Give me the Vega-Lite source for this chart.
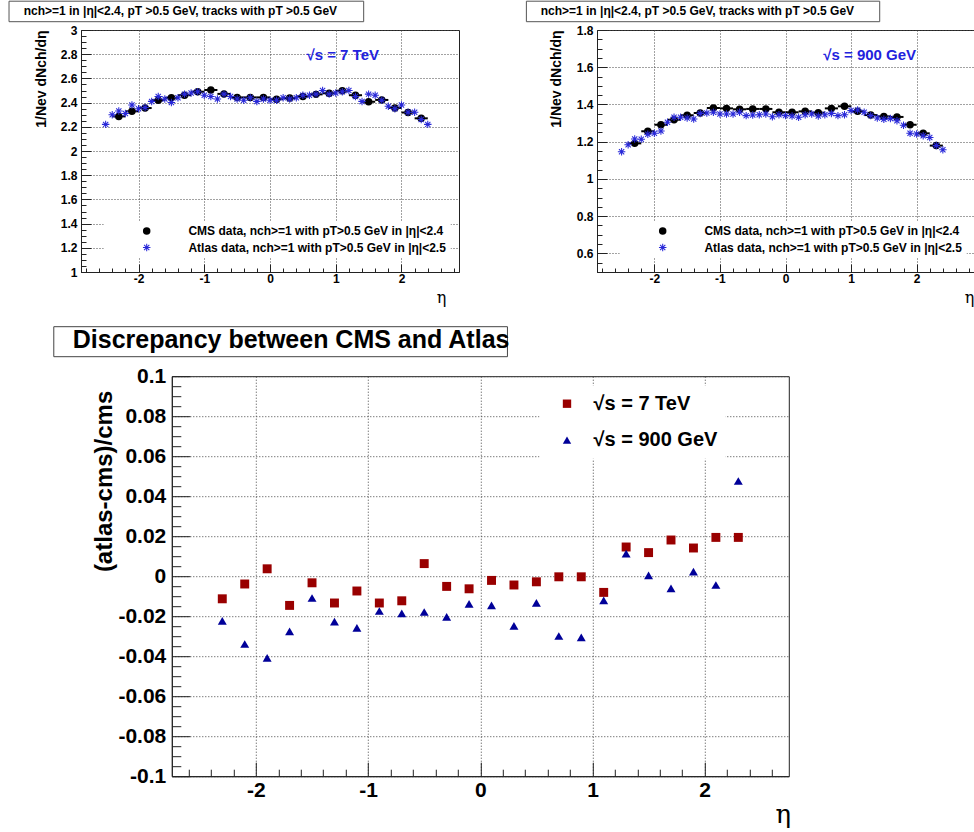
{
"$schema": "https://vega.github.io/schema/vega-lite/v6.json",
"background": "white",
"padding": {"left": 8, "top": 0, "right": 0, "bottom": 0},
"config": {
 "font": "Liberation Sans",
 "view": {"stroke": "#222", "strokeWidth": 1},
 "axis": {"tickCount": 200, "labelOverlap": false, "labelFlush": false, "domainColor": "#222", "domainWidth": 1, "tickColor": "#222", "tickWidth": 1, "gridColor": "#444", "gridDash": [1, 2], "gridWidth": 1, "labelFont": "Liberation Sans", "labelFontWeight": "bold", "labelColor": "black", "titleColor": "black", "titleFont": "Liberation Sans"},
 "legend": {"labelFont": "Liberation Sans", "labelFontWeight": "bold", "labelColor": "black"}
},
"datasets": {
 "top7": [
  {"exp":"CMS","eta":-2.3,"lo":-2.4,"hi":-2.2,"v":2.286},
  {"exp":"CMS","eta":-2.1,"lo":-2.2,"hi":-2.0,"v":2.328},
  {"exp":"CMS","eta":-1.9,"lo":-2.0,"hi":-1.8,"v":2.355},
  {"exp":"CMS","eta":-1.7,"lo":-1.8,"hi":-1.6,"v":2.420},
  {"exp":"CMS","eta":-1.5,"lo":-1.6,"hi":-1.4,"v":2.440},
  {"exp":"CMS","eta":-1.3,"lo":-1.4,"hi":-1.2,"v":2.461},
  {"exp":"CMS","eta":-1.1,"lo":-1.2,"hi":-1.0,"v":2.490},
  {"exp":"CMS","eta":-0.9,"lo":-1.0,"hi":-0.8,"v":2.504},
  {"exp":"CMS","eta":-0.7,"lo":-0.8,"hi":-0.6,"v":2.472},
  {"exp":"CMS","eta":-0.5,"lo":-0.6,"hi":-0.4,"v":2.443},
  {"exp":"CMS","eta":-0.3,"lo":-0.4,"hi":-0.2,"v":2.443},
  {"exp":"CMS","eta":-0.1,"lo":-0.2,"hi":0.0,"v":2.443},
  {"exp":"CMS","eta":0.1,"lo":0.0,"hi":0.2,"v":2.428},
  {"exp":"CMS","eta":0.3,"lo":0.2,"hi":0.4,"v":2.438},
  {"exp":"CMS","eta":0.5,"lo":0.4,"hi":0.6,"v":2.451},
  {"exp":"CMS","eta":0.7,"lo":0.6,"hi":0.8,"v":2.468},
  {"exp":"CMS","eta":0.9,"lo":0.8,"hi":1.0,"v":2.477},
  {"exp":"CMS","eta":1.1,"lo":1.0,"hi":1.2,"v":2.498},
  {"exp":"CMS","eta":1.3,"lo":1.2,"hi":1.4,"v":2.461},
  {"exp":"CMS","eta":1.5,"lo":1.4,"hi":1.6,"v":2.407},
  {"exp":"CMS","eta":1.7,"lo":1.6,"hi":1.8,"v":2.422},
  {"exp":"CMS","eta":1.9,"lo":1.8,"hi":2.0,"v":2.356},
  {"exp":"CMS","eta":2.1,"lo":2.0,"hi":2.2,"v":2.318},
  {"exp":"CMS","eta":2.3,"lo":2.2,"hi":2.4,"v":2.270},
  {"exp":"Atlas","eta":-2.5,"v":2.22},
  {"exp":"Atlas","eta":-2.4,"v":2.30},
  {"exp":"Atlas","eta":-2.3,"v":2.33},
  {"exp":"Atlas","eta":-2.2,"v":2.31},
  {"exp":"Atlas","eta":-2.1,"v":2.38},
  {"exp":"Atlas","eta":-2.0,"v":2.35},
  {"exp":"Atlas","eta":-1.9,"v":2.36},
  {"exp":"Atlas","eta":-1.8,"v":2.41},
  {"exp":"Atlas","eta":-1.7,"v":2.45},
  {"exp":"Atlas","eta":-1.6,"v":2.43},
  {"exp":"Atlas","eta":-1.5,"v":2.40},
  {"exp":"Atlas","eta":-1.4,"v":2.44},
  {"exp":"Atlas","eta":-1.3,"v":2.47},
  {"exp":"Atlas","eta":-1.2,"v":2.48},
  {"exp":"Atlas","eta":-1.1,"v":2.49},
  {"exp":"Atlas","eta":-1.0,"v":2.46},
  {"exp":"Atlas","eta":-0.9,"v":2.45},
  {"exp":"Atlas","eta":-0.8,"v":2.43},
  {"exp":"Atlas","eta":-0.7,"v":2.47},
  {"exp":"Atlas","eta":-0.6,"v":2.45},
  {"exp":"Atlas","eta":-0.5,"v":2.43},
  {"exp":"Atlas","eta":-0.4,"v":2.42},
  {"exp":"Atlas","eta":-0.3,"v":2.44},
  {"exp":"Atlas","eta":-0.2,"v":2.41},
  {"exp":"Atlas","eta":-0.1,"v":2.43},
  {"exp":"Atlas","eta":0.0,"v":2.42},
  {"exp":"Atlas","eta":0.1,"v":2.42},
  {"exp":"Atlas","eta":0.2,"v":2.44},
  {"exp":"Atlas","eta":0.3,"v":2.43},
  {"exp":"Atlas","eta":0.4,"v":2.44},
  {"exp":"Atlas","eta":0.5,"v":2.46},
  {"exp":"Atlas","eta":0.6,"v":2.46},
  {"exp":"Atlas","eta":0.7,"v":2.47},
  {"exp":"Atlas","eta":0.8,"v":2.50},
  {"exp":"Atlas","eta":0.9,"v":2.47},
  {"exp":"Atlas","eta":1.0,"v":2.48},
  {"exp":"Atlas","eta":1.1,"v":2.49},
  {"exp":"Atlas","eta":1.2,"v":2.50},
  {"exp":"Atlas","eta":1.3,"v":2.45},
  {"exp":"Atlas","eta":1.4,"v":2.41},
  {"exp":"Atlas","eta":1.5,"v":2.47},
  {"exp":"Atlas","eta":1.6,"v":2.46},
  {"exp":"Atlas","eta":1.7,"v":2.42},
  {"exp":"Atlas","eta":1.8,"v":2.37},
  {"exp":"Atlas","eta":1.9,"v":2.35},
  {"exp":"Atlas","eta":2.0,"v":2.38},
  {"exp":"Atlas","eta":2.1,"v":2.32},
  {"exp":"Atlas","eta":2.2,"v":2.32},
  {"exp":"Atlas","eta":2.3,"v":2.26},
  {"exp":"Atlas","eta":2.4,"v":2.22}
 ],
 "top900": [
  {"exp":"CMS","eta":-2.3,"lo":-2.4,"hi":-2.2,"v":1.191},
  {"exp":"CMS","eta":-2.1,"lo":-2.2,"hi":-2.0,"v":1.256},
  {"exp":"CMS","eta":-1.9,"lo":-2.0,"hi":-1.8,"v":1.291},
  {"exp":"CMS","eta":-1.7,"lo":-1.8,"hi":-1.6,"v":1.318},
  {"exp":"CMS","eta":-1.5,"lo":-1.6,"hi":-1.4,"v":1.342},
  {"exp":"CMS","eta":-1.3,"lo":-1.4,"hi":-1.2,"v":1.354},
  {"exp":"CMS","eta":-1.1,"lo":-1.2,"hi":-1.0,"v":1.381},
  {"exp":"CMS","eta":-0.9,"lo":-1.0,"hi":-0.8,"v":1.379},
  {"exp":"CMS","eta":-0.7,"lo":-0.8,"hi":-0.6,"v":1.374},
  {"exp":"CMS","eta":-0.5,"lo":-0.6,"hi":-0.4,"v":1.376},
  {"exp":"CMS","eta":-0.3,"lo":-0.4,"hi":-0.2,"v":1.376},
  {"exp":"CMS","eta":-0.1,"lo":-0.2,"hi":0.0,"v":1.358},
  {"exp":"CMS","eta":0.1,"lo":0.0,"hi":0.2,"v":1.358},
  {"exp":"CMS","eta":0.3,"lo":0.2,"hi":0.4,"v":1.363},
  {"exp":"CMS","eta":0.5,"lo":0.4,"hi":0.6,"v":1.356},
  {"exp":"CMS","eta":0.7,"lo":0.6,"hi":0.8,"v":1.379},
  {"exp":"CMS","eta":0.9,"lo":0.8,"hi":1.0,"v":1.390},
  {"exp":"CMS","eta":1.1,"lo":1.0,"hi":1.2,"v":1.363},
  {"exp":"CMS","eta":1.3,"lo":1.2,"hi":1.4,"v":1.343},
  {"exp":"CMS","eta":1.5,"lo":1.4,"hi":1.6,"v":1.336},
  {"exp":"CMS","eta":1.7,"lo":1.6,"hi":1.8,"v":1.333},
  {"exp":"CMS","eta":1.9,"lo":1.8,"hi":2.0,"v":1.291},
  {"exp":"CMS","eta":2.1,"lo":2.0,"hi":2.2,"v":1.245},
  {"exp":"CMS","eta":2.3,"lo":2.2,"hi":2.4,"v":1.179},
  {"exp":"Atlas","eta":-2.5,"v":1.146},
  {"exp":"Atlas","eta":-2.4,"v":1.184},
  {"exp":"Atlas","eta":-2.3,"v":1.214},
  {"exp":"Atlas","eta":-2.2,"v":1.213},
  {"exp":"Atlas","eta":-2.1,"v":1.240},
  {"exp":"Atlas","eta":-2.0,"v":1.245},
  {"exp":"Atlas","eta":-1.9,"v":1.257},
  {"exp":"Atlas","eta":-1.8,"v":1.304},
  {"exp":"Atlas","eta":-1.7,"v":1.331},
  {"exp":"Atlas","eta":-1.6,"v":1.331},
  {"exp":"Atlas","eta":-1.5,"v":1.327},
  {"exp":"Atlas","eta":-1.4,"v":1.322},
  {"exp":"Atlas","eta":-1.3,"v":1.352},
  {"exp":"Atlas","eta":-1.2,"v":1.354},
  {"exp":"Atlas","eta":-1.1,"v":1.358},
  {"exp":"Atlas","eta":-1.0,"v":1.349},
  {"exp":"Atlas","eta":-0.9,"v":1.349},
  {"exp":"Atlas","eta":-0.8,"v":1.349},
  {"exp":"Atlas","eta":-0.7,"v":1.358},
  {"exp":"Atlas","eta":-0.6,"v":1.340},
  {"exp":"Atlas","eta":-0.5,"v":1.343},
  {"exp":"Atlas","eta":-0.4,"v":1.345},
  {"exp":"Atlas","eta":-0.3,"v":1.349},
  {"exp":"Atlas","eta":-0.2,"v":1.334},
  {"exp":"Atlas","eta":-0.1,"v":1.345},
  {"exp":"Atlas","eta":0.0,"v":1.340},
  {"exp":"Atlas","eta":0.1,"v":1.338},
  {"exp":"Atlas","eta":0.2,"v":1.331},
  {"exp":"Atlas","eta":0.3,"v":1.345},
  {"exp":"Atlas","eta":0.4,"v":1.349},
  {"exp":"Atlas","eta":0.5,"v":1.338},
  {"exp":"Atlas","eta":0.6,"v":1.345},
  {"exp":"Atlas","eta":0.7,"v":1.352},
  {"exp":"Atlas","eta":0.8,"v":1.340},
  {"exp":"Atlas","eta":0.9,"v":1.345},
  {"exp":"Atlas","eta":1.0,"v":1.367},
  {"exp":"Atlas","eta":1.1,"v":1.370},
  {"exp":"Atlas","eta":1.2,"v":1.358},
  {"exp":"Atlas","eta":1.3,"v":1.340},
  {"exp":"Atlas","eta":1.4,"v":1.327},
  {"exp":"Atlas","eta":1.5,"v":1.320},
  {"exp":"Atlas","eta":1.6,"v":1.324},
  {"exp":"Atlas","eta":1.7,"v":1.313},
  {"exp":"Atlas","eta":1.8,"v":1.288},
  {"exp":"Atlas","eta":1.9,"v":1.245},
  {"exp":"Atlas","eta":2.0,"v":1.241},
  {"exp":"Atlas","eta":2.1,"v":1.232},
  {"exp":"Atlas","eta":2.2,"v":1.223},
  {"exp":"Atlas","eta":2.3,"v":1.179},
  {"exp":"Atlas","eta":2.4,"v":1.157}
 ],
 "disc": [
  {"energy":"7 TeV","eta":-2.3,"d":-0.0113},
  {"energy":"7 TeV","eta":-2.1,"d":-0.0039},
  {"energy":"7 TeV","eta":-1.9,"d":0.0037},
  {"energy":"7 TeV","eta":-1.7,"d":-0.0146},
  {"energy":"7 TeV","eta":-1.5,"d":-0.0033},
  {"energy":"7 TeV","eta":-1.3,"d":-0.0134},
  {"energy":"7 TeV","eta":-1.1,"d":-0.0074},
  {"energy":"7 TeV","eta":-0.9,"d":-0.0134},
  {"energy":"7 TeV","eta":-0.7,"d":-0.0123},
  {"energy":"7 TeV","eta":-0.5,"d":0.0063},
  {"energy":"7 TeV","eta":-0.3,"d":-0.0051},
  {"energy":"7 TeV","eta":-0.1,"d":-0.0063},
  {"energy":"7 TeV","eta":0.1,"d":-0.0021},
  {"energy":"7 TeV","eta":0.3,"d":-0.0044},
  {"energy":"7 TeV","eta":0.5,"d":-0.0028},
  {"energy":"7 TeV","eta":0.7,"d":-0.0003},
  {"energy":"7 TeV","eta":0.9,"d":-0.0003},
  {"energy":"7 TeV","eta":1.1,"d":-0.0081},
  {"energy":"7 TeV","eta":1.3,"d":0.0146},
  {"energy":"7 TeV","eta":1.5,"d":0.0118},
  {"energy":"7 TeV","eta":1.7,"d":0.0181},
  {"energy":"7 TeV","eta":1.9,"d":0.0141},
  {"energy":"7 TeV","eta":2.1,"d":0.0194},
  {"energy":"7 TeV","eta":2.3,"d":0.0194},
  {"energy":"900 GeV","eta":-2.3,"d":-0.0223},
  {"energy":"900 GeV","eta":-2.1,"d":-0.0339},
  {"energy":"900 GeV","eta":-1.9,"d":-0.0408},
  {"energy":"900 GeV","eta":-1.7,"d":-0.0276},
  {"energy":"900 GeV","eta":-1.5,"d":-0.0109},
  {"energy":"900 GeV","eta":-1.3,"d":-0.0227},
  {"energy":"900 GeV","eta":-1.1,"d":-0.0258},
  {"energy":"900 GeV","eta":-0.9,"d":-0.0174},
  {"energy":"900 GeV","eta":-0.7,"d":-0.0186},
  {"energy":"900 GeV","eta":-0.5,"d":-0.0179},
  {"energy":"900 GeV","eta":-0.3,"d":-0.0203},
  {"energy":"900 GeV","eta":-0.1,"d":-0.0138},
  {"energy":"900 GeV","eta":0.1,"d":-0.0146},
  {"energy":"900 GeV","eta":0.3,"d":-0.0248},
  {"energy":"900 GeV","eta":0.5,"d":-0.0133},
  {"energy":"900 GeV","eta":0.7,"d":-0.0299},
  {"energy":"900 GeV","eta":0.9,"d":-0.0306},
  {"energy":"900 GeV","eta":1.1,"d":-0.0121},
  {"energy":"900 GeV","eta":1.3,"d":0.0113},
  {"energy":"900 GeV","eta":1.5,"d":0.0004},
  {"energy":"900 GeV","eta":1.7,"d":-0.0061},
  {"energy":"900 GeV","eta":1.9,"d":0.0023},
  {"energy":"900 GeV","eta":2.1,"d":-0.0044},
  {"energy":"900 GeV","eta":2.3,"d":0.0476}
 ]
},
"bounds": "full",
"spacing": 19.2,
"resolve": {"scale": {"color": "independent", "shape": "independent"}, "legend": {"color": "independent", "shape": "independent"}},
"vconcat": [
 {
  "spacing": 138,
  "bounds": "flush",
  "resolve": {"scale": {"color": "independent", "shape": "independent"}, "legend": {"color": "independent", "shape": "independent"}},
  "hconcat": [
   {
    "width": 378, "height": 242,
    "data": {"name": "top7"},
    "layer": [
     {"transform": [{"filter": "datum.exp == 'CMS'"}],
      "mark": {"type": "rule", "color": "black", "strokeWidth": 2},
      "encoding": {
       "x": {"field": "lo", "type": "quantitative", "scale": {"domain": [-2.875, 2.875], "nice": false, "zero": false}},
       "x2": {"field": "hi"},
       "y": {"field": "v", "type": "quantitative", "scale": {"domain": [1, 3], "nice": false, "zero": false}}}},
     {"mark": {"type": "point", "filled": true, "size": 56, "opacity": 1, "strokeWidth": 0},
      "encoding": {
       "x": {"field": "eta", "type": "quantitative", "scale": {"domain": [-2.875, 2.875], "nice": false, "zero": false},
        "axis": {"values": [-2.8,-2.6,-2.4,-2.2,-2,-1.8,-1.6,-1.4,-1.2,-1,-0.8,-0.6,-0.4,-0.2,0,0.2,0.4,0.6,0.8,1,1.2,1.4,1.6,1.8,2,2.2,2.4,2.6,2.8],
         "format": ".0f", "labelOverlap": false, "tickCount": 200,
         "labelExpr": "abs(datum.value - round(datum.value)) < 0.001 ? replace(datum.label, '−', '-') : ''",
         "tickSize": {"condition": {"test": "abs(datum.value - round(datum.value)) < 0.001", "value": -8}, "value": -4},
         "grid": true, "gridOpacity": {"condition": {"test": "abs(datum.value - round(datum.value)) < 0.001", "value": 1}, "value": 0},
         "labelFontSize": 12, "labelPadding": 9,
         "title": "η", "titleFont": "DejaVu Serif", "titleFontWeight": "normal", "titleFontSize": 16, "titleX": 360, "titleY": 25, "titleAlign": "center", "titleBaseline": "middle"}},
       "y": {"field": "v", "type": "quantitative", "scale": {"domain": [1, 3], "nice": false, "zero": false},
        "axis": {"values": [1,1.05,1.1,1.15,1.2,1.25,1.3,1.35,1.4,1.45,1.5,1.55,1.6,1.65,1.7,1.75,1.8,1.85,1.9,1.95,2,2.05,2.1,2.15,2.2,2.25,2.3,2.35,2.4,2.45,2.5,2.55,2.6,2.65,2.7,2.75,2.8,2.85,2.9,2.95,3],
         "format": ".1~f", "labelOverlap": false, "tickCount": 200,
         "labelExpr": "abs(datum.value*5 - round(datum.value*5)) < 0.001 ? datum.label : ''",
         "tickSize": {"condition": {"test": "abs(datum.value*5 - round(datum.value*5)) < 0.001", "value": -10}, "value": -5},
         "grid": true, "gridOpacity": {"condition": {"test": "abs(datum.value*5 - round(datum.value*5)) < 0.001", "value": 1}, "value": 0},
         "labelFontSize": 12, "labelPadding": 14,
         "title": "1/Nev dNch/dη", "titleFontSize": 14, "titleFontWeight": "bold", "titleAngle": 270, "titleX": -40, "titleY": 0, "titleAlign": "right", "titleBaseline": "middle"}},
       "color": {"field": "exp", "type": "nominal", "scale": {"domain": ["CMS", "Atlas"], "range": ["black", "#2828d8"]},
        "legend": {"orient": "none", "legendX": 22.7, "legendY": 191, "title": null, "fillColor": "white", "padding": 4, "symbolOffset": 33, "labelOffset": 35.7, "labelFontSize": 12, "rowPadding": 4.5, "symbolSize": 56, "symbolStrokeWidth": 0, "labelLimit": 500,
         "labelExpr": "datum.label == 'CMS' ? 'CMS data, nch>=1 with pT>0.5 GeV in |η|<2.4' : 'Atlas data, nch>=1 with pT>0.5 GeV in |η|<2.5'"}},
       "shape": {"field": "exp", "type": "nominal", "scale": {"domain": ["CMS", "Atlas"], "range": ["circle", "M-1,-0.14L1,-0.14L1,0.14L-1,0.14ZM-0.14,-1L0.14,-1L0.14,1L-0.14,1ZM-0.799,-0.601L-0.601,-0.799L0.799,0.601L0.601,0.799ZM-0.601,0.799L-0.799,0.601L0.601,-0.799L0.799,-0.601Z"]},
        "legend": {"orient": "none", "legendX": 22.7, "legendY": 191, "title": null, "fillColor": "white", "padding": 4, "symbolOffset": 33, "labelOffset": 35.7, "labelFontSize": 12, "rowPadding": 4.5, "symbolSize": 56, "symbolStrokeWidth": 0, "labelLimit": 500,
         "labelExpr": "datum.label == 'CMS' ? 'CMS data, nch>=1 with pT>0.5 GeV in |η|<2.4' : 'Atlas data, nch>=1 with pT>0.5 GeV in |η|<2.5'"}}}},
     {"data": {"values": [{}]},
      "mark": {"type": "text", "text": "√s = 7 TeV", "color": "#2222dd", "fontSize": 15, "fontWeight": "bold", "align": "center", "baseline": "middle"},
      "encoding": {"x": {"datum": 1.106, "scale": {"domain": [-2.875, 2.875], "nice": false, "zero": false}}, "y": {"datum": 2.79, "scale": {"domain": [1, 3], "nice": false, "zero": false}}}},
     {"data": {"values": [{}]},
      "mark": {"type": "rect", "fill": "white", "stroke": "#555", "strokeWidth": 1},
      "encoding": {"x": {"datum": -3.97, "scale": {"domain": [-2.875, 2.875], "nice": false, "zero": false}}, "x2": {"datum": 1.425}, "y": {"datum": 3.238, "scale": {"domain": [1, 3], "nice": false, "zero": false}}, "y2": {"datum": 3.0686}}},
     {"data": {"values": [{}]},
      "mark": {"type": "text", "text": "nch>=1 in  |η|<2.4, pT >0.5 GeV, tracks with pT >0.5 GeV", "color": "black", "fontSize": 12, "fontWeight": "bold", "align": "left", "baseline": "middle"},
      "encoding": {"x": {"datum": -3.747, "scale": {"domain": [-2.875, 2.875], "nice": false, "zero": false}}, "y": {"datum": 3.155, "scale": {"domain": [1, 3], "nice": false, "zero": false}}}}
    ]
   },
   {
    "width": 377, "height": 242,
    "data": {"name": "top900"},
    "layer": [
     {"transform": [{"filter": "datum.exp == 'CMS'"}],
      "mark": {"type": "rule", "color": "black", "strokeWidth": 2},
      "encoding": {
       "x": {"field": "lo", "type": "quantitative", "scale": {"domain": [-2.875, 2.875], "nice": false, "zero": false}},
       "x2": {"field": "hi"},
       "y": {"field": "v", "type": "quantitative", "scale": {"domain": [0.5, 1.8], "nice": false, "zero": false}}}},
     {"mark": {"type": "point", "filled": true, "size": 56, "opacity": 1, "strokeWidth": 0},
      "encoding": {
       "x": {"field": "eta", "type": "quantitative", "scale": {"domain": [-2.875, 2.875], "nice": false, "zero": false},
        "axis": {"values": [-2.8,-2.6,-2.4,-2.2,-2,-1.8,-1.6,-1.4,-1.2,-1,-0.8,-0.6,-0.4,-0.2,0,0.2,0.4,0.6,0.8,1,1.2,1.4,1.6,1.8,2,2.2,2.4,2.6,2.8],
         "format": ".0f", "labelOverlap": false, "tickCount": 200,
         "labelExpr": "abs(datum.value - round(datum.value)) < 0.001 ? replace(datum.label, '−', '-') : ''",
         "tickSize": {"condition": {"test": "abs(datum.value - round(datum.value)) < 0.001", "value": -8}, "value": -4},
         "grid": true, "gridOpacity": {"condition": {"test": "abs(datum.value - round(datum.value)) < 0.001", "value": 1}, "value": 0},
         "labelFontSize": 12, "labelPadding": 9,
         "title": "η", "titleFont": "DejaVu Serif", "titleFontWeight": "normal", "titleFontSize": 16, "titleX": 372, "titleY": 25, "titleAlign": "center", "titleBaseline": "middle"}},
       "y": {"field": "v", "type": "quantitative", "scale": {"domain": [0.5, 1.8], "nice": false, "zero": false},
        "axis": {"values": [0.5,0.55,0.6,0.65,0.7,0.75,0.8,0.85,0.9,0.95,1,1.05,1.1,1.15,1.2,1.25,1.3,1.35,1.4,1.45,1.5,1.55,1.6,1.65,1.7,1.75,1.8],
         "format": ".1~f", "labelOverlap": false, "tickCount": 200,
         "labelExpr": "abs(datum.value*5 - round(datum.value*5)) < 0.001 ? datum.label : ''",
         "tickSize": {"condition": {"test": "abs(datum.value*5 - round(datum.value*5)) < 0.001", "value": -10}, "value": -5},
         "grid": true, "gridOpacity": {"condition": {"test": "abs(datum.value*5 - round(datum.value*5)) < 0.001", "value": 1}, "value": 0},
         "labelFontSize": 12, "labelPadding": 14,
         "title": "1/Nev dNch/dη", "titleFontSize": 14, "titleFontWeight": "bold", "titleAngle": 270, "titleX": -41, "titleY": 0, "titleAlign": "right", "titleBaseline": "middle"}},
       "color": {"field": "exp", "type": "nominal", "scale": {"domain": ["CMS", "Atlas"], "range": ["black", "#2828d8"]},
        "legend": {"orient": "none", "legendX": 22.7, "legendY": 191, "title": null, "fillColor": "white", "padding": 4, "symbolOffset": 33, "labelOffset": 35.7, "labelFontSize": 12, "rowPadding": 4.5, "symbolSize": 56, "symbolStrokeWidth": 0, "labelLimit": 500,
         "labelExpr": "datum.label == 'CMS' ? 'CMS data, nch>=1 with pT>0.5 GeV in |η|<2.4' : 'Atlas data, nch>=1 with pT>0.5 GeV in |η|<2.5'"}},
       "shape": {"field": "exp", "type": "nominal", "scale": {"domain": ["CMS", "Atlas"], "range": ["circle", "M-1,-0.14L1,-0.14L1,0.14L-1,0.14ZM-0.14,-1L0.14,-1L0.14,1L-0.14,1ZM-0.799,-0.601L-0.601,-0.799L0.799,0.601L0.601,0.799ZM-0.601,0.799L-0.799,0.601L0.601,-0.799L0.799,-0.601Z"]},
        "legend": {"orient": "none", "legendX": 22.7, "legendY": 191, "title": null, "fillColor": "white", "padding": 4, "symbolOffset": 33, "labelOffset": 35.7, "labelFontSize": 12, "rowPadding": 4.5, "symbolSize": 56, "symbolStrokeWidth": 0, "labelLimit": 500,
         "labelExpr": "datum.label == 'CMS' ? 'CMS data, nch>=1 with pT>0.5 GeV in |η|<2.4' : 'Atlas data, nch>=1 with pT>0.5 GeV in |η|<2.5'"}}}},
     {"data": {"values": [{}]},
      "mark": {"type": "text", "text": "√s = 900 GeV", "color": "#2222dd", "fontSize": 15, "fontWeight": "bold", "align": "center", "baseline": "middle"},
      "encoding": {"x": {"datum": 1.284, "scale": {"domain": [-2.875, 2.875], "nice": false, "zero": false}}, "y": {"datum": 1.6636, "scale": {"domain": [0.5, 1.8], "nice": false, "zero": false}}}},
     {"data": {"values": [{}]},
      "mark": {"type": "rect", "fill": "white", "stroke": "#555", "strokeWidth": 1},
      "encoding": {"x": {"datum": -3.952, "scale": {"domain": [-2.875, 2.875], "nice": false, "zero": false}}, "x2": {"datum": 1.437}, "y": {"datum": 1.9547, "scale": {"domain": [0.5, 1.8], "nice": false, "zero": false}}, "y2": {"datum": 1.8446}}},
     {"data": {"values": [{}]},
      "mark": {"type": "text", "text": "nch>=1 in  |η|<2.4, pT >0.5 GeV, tracks with pT >0.5 GeV", "color": "black", "fontSize": 12, "fontWeight": "bold", "align": "left", "baseline": "middle"},
      "encoding": {"x": {"datum": -3.734, "scale": {"domain": [-2.875, 2.875], "nice": false, "zero": false}}, "y": {"datum": 1.901, "scale": {"domain": [0.5, 1.8], "nice": false, "zero": false}}}}
    ]
   }
  ]
 },
 {
  "spacing": 89.8,
  "bounds": "flush",
  "resolve": {"scale": {"color": "independent", "shape": "independent"}, "legend": {"color": "independent", "shape": "independent"}},
  "hconcat": [
   {"width": 1, "height": 400, "data": {"values": []}, "mark": "point", "view": {"stroke": null}},
   {
    "width": 617, "height": 400,
    "layer": [
     {"data": {"name": "disc"},
      "mark": {"type": "point", "filled": true, "size": 80, "opacity": 1, "strokeWidth": 0},
      "encoding": {
       "x": {"field": "eta", "type": "quantitative", "scale": {"domain": [-2.75, 2.75], "nice": false, "zero": false},
        "axis": {"values": [-2.6,-2.4,-2.2,-2,-1.8,-1.6,-1.4,-1.2,-1,-0.8,-0.6,-0.4,-0.2,0,0.2,0.4,0.6,0.8,1,1.2,1.4,1.6,1.8,2,2.2,2.4,2.6],
         "format": ".0f", "labelOverlap": false, "tickCount": 200,
         "labelExpr": "abs(datum.value - round(datum.value)) < 0.001 ? replace(datum.label, '−', '-') : ''",
         "tickSize": {"condition": {"test": "abs(datum.value - round(datum.value)) < 0.001", "value": -14}, "value": -7},
         "grid": true, "gridOpacity": {"condition": {"test": "abs(datum.value - round(datum.value)) < 0.001", "value": 1}, "value": 0},
         "labelFontSize": 21, "labelPadding": 17,
         "title": "η", "titleFont": "DejaVu Serif", "titleFontWeight": "normal", "titleFontSize": 26, "titleX": 611, "titleY": 38, "titleAlign": "center", "titleBaseline": "middle"}},
       "y": {"field": "d", "type": "quantitative", "scale": {"domain": [-0.1, 0.1], "nice": false, "zero": false},
        "axis": {"values": [-0.1,-0.095,-0.09,-0.085,-0.08,-0.075,-0.07,-0.065,-0.06,-0.055,-0.05,-0.045,-0.04,-0.035,-0.03,-0.025,-0.02,-0.015,-0.01,-0.005,0,0.005,0.01,0.015,0.02,0.025,0.03,0.035,0.04,0.045,0.05,0.055,0.06,0.065,0.07,0.075,0.08,0.085,0.09,0.095,0.1],
         "format": ".2~f", "labelOverlap": false, "tickCount": 200,
         "labelExpr": "abs(datum.value*50 - round(datum.value*50)) < 0.001 ? replace(datum.label, '−', '-') : ''",
         "tickSize": {"condition": {"test": "abs(datum.value*50 - round(datum.value*50)) < 0.001", "value": -18}, "value": -9},
         "grid": true, "gridOpacity": {"condition": {"test": "abs(datum.value*50 - round(datum.value*50)) < 0.001", "value": 1}, "value": 0},
         "labelFontSize": 21, "labelPadding": 24,
         "title": "(atlas-cms)/cms", "titleFontSize": 24, "titleFontWeight": "bold", "titleAngle": 270, "titleX": -67, "titleY": 14, "titleAlign": "right", "titleBaseline": "middle"}},
       "color": {"field": "energy", "type": "nominal", "scale": {"domain": ["7 TeV", "900 GeV"], "range": ["#990000", "#000099"]},
        "legend": {"orient": "none", "legendX": 367.7, "legendY": 9.5, "title": null, "fillColor": "white", "padding": 8, "symbolOffset": 9.5, "labelOffset": 16.5, "labelFontSize": 20, "rowPadding": 16.5, "symbolSize": 70, "symbolStrokeWidth": 0, "labelExpr": "'√s = ' + datum.label"}},
       "shape": {"field": "energy", "type": "nominal", "scale": {"domain": ["7 TeV", "900 GeV"], "range": ["square", "triangle-up"]},
        "legend": {"orient": "none", "legendX": 367.7, "legendY": 9.5, "title": null, "fillColor": "white", "padding": 8, "symbolOffset": 9.5, "labelOffset": 16.5, "labelFontSize": 20, "rowPadding": 16.5, "symbolSize": 70, "symbolStrokeWidth": 0, "labelExpr": "'√s = ' + datum.label"}}}},
     {"data": {"values": [{}]},
      "mark": {"type": "rect", "fill": "white", "stroke": "#444", "strokeWidth": 1},
      "encoding": {"x": {"datum": -3.802, "scale": {"domain": [-2.75, 2.75], "nice": false, "zero": false}}, "x2": {"datum": 0.242}, "y": {"datum": 0.12475, "scale": {"domain": [-0.1, 0.1], "nice": false, "zero": false}}, "y2": {"datum": 0.10975}}},
     {"data": {"values": [{}]},
      "mark": {"type": "text", "text": "Discrepancy between CMS and Atlas", "color": "black", "fontSize": 25, "fontWeight": "bold", "align": "left", "baseline": "middle"},
      "encoding": {"x": {"datum": -3.633, "scale": {"domain": [-2.75, 2.75], "nice": false, "zero": false}}, "y": {"datum": 0.11825, "scale": {"domain": [-0.1, 0.1], "nice": false, "zero": false}}}}
    ]
   }
  ]
 }
]
}
